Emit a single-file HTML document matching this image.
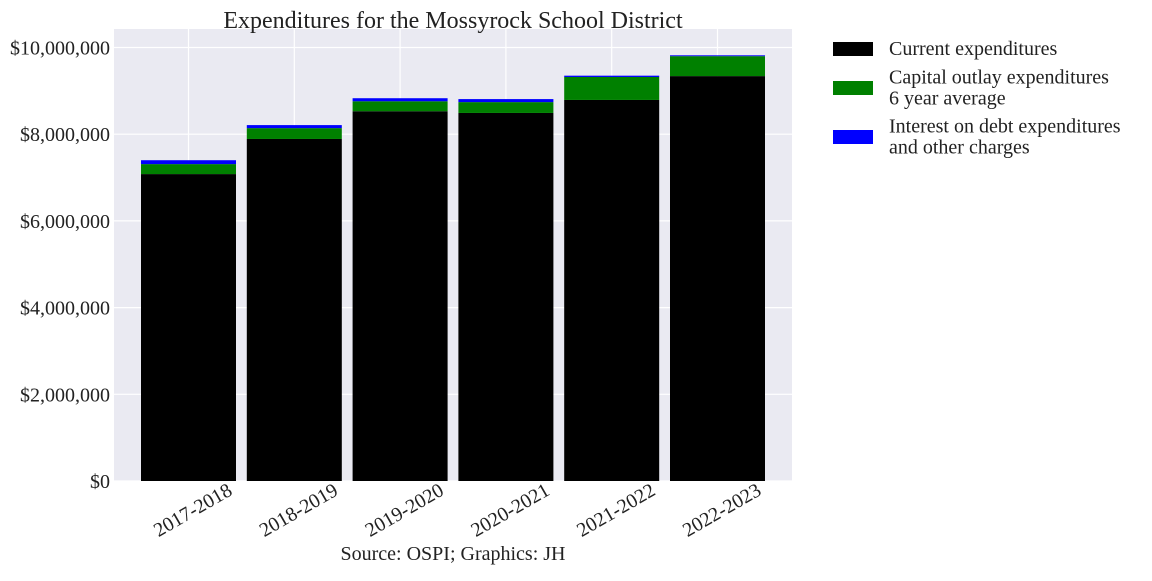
<!DOCTYPE html>
<html><head><meta charset="utf-8"><style>
body{margin:0;background:#fff;}
svg text{font-family:"Liberation Serif",serif;fill:#222;}
</style></head><body>
<svg width="1152" height="576" xmlns="http://www.w3.org/2000/svg">
<g id="chart"></g>
</svg>
<script>
const categories=["2017-2018","2018-2019","2019-2020","2020-2021","2021-2022","2022-2023"];
const currentExp=[7080000,7890000,8530000,8490000,8790000,9340000];
const capitalExp=[230000,250000,230000,250000,530000,460000];
const interestExp=[90000,70000,70000,70000,30000,20000];
const yTicks=[0,2000000,4000000,6000000,8000000,10000000];
const yTickLabels=["$0","$2,000,000","$4,000,000","$6,000,000","$8,000,000","$10,000,000"];
const legendLabels=[["Current expenditures"],["Capital outlay expenditures","6 year average"],["Interest on debt expenditures","and other charges"]];
const colors=["#000000","#008000","#0000ff"];
const NS="http://www.w3.org/2000/svg";
const g=document.getElementById('chart');
const L=114,R=792,T=29,B=481;
const ppm=43.35/1e6;
const y=v=>B-v*ppm;
const step=105.8, x0=188.5;
const x=i=>x0+i*step;
const bw=95;
function el(t,a,p){const e=document.createElementNS(NS,t);for(const k in a)e.setAttribute(k,a[k]);(p||g).appendChild(e);return e;}
const bg=el('rect',{x:L,y:T,width:R-L,height:B-T,fill:'#eaeaf2'});


yTicks.forEach((v,i)=>{
 const ln=el('line',{x1:L,x2:R,y1:y(v),y2:y(v),stroke:'#fff','stroke-width':1.2});
 
 
 const t=el('text',{x:L-4,y:y(v)+7,'text-anchor':'end','font-size':20});
 t.textContent=yTickLabels[i];
 
 
});
categories.forEach((c,i)=>{
 const ln=el('line',{x1:x(i),x2:x(i),y1:T,y2:B,stroke:'#fff','stroke-width':1.2});
 
 
});
categories.forEach((c,i)=>{
 const segs=[currentExp[i],capitalExp[i],interestExp[i]];
 let base=0;
 segs.forEach((v,s)=>{
  const r=el('rect',{x:x(i)-bw/2,y:y(base+v),width:bw,height:v*ppm,fill:colors[s]});
  
  
  base+=v;
 });
 const t=el('text',{x:0,y:0,'text-anchor':'end','font-size':20,transform:`translate(${x(i)+45},${B+13}) rotate(-30)`});
 t.textContent=c;
 
 
});
const title=el('text',{x:453,y:28,'text-anchor':'middle','font-size':24});
title.textContent="Expenditures for the Mossyrock School District";


const src=el('text',{x:453,y:560,'text-anchor':'middle','font-size':20});
src.textContent="Source: OSPI; Graphics: JH";


const ly=[49,88,137];
legendLabels.forEach((lines,i)=>{
 const r=el('rect',{x:833,y:ly[i]-7,width:40,height:14,fill:colors[i]});
 
 
 lines.forEach((ln,j)=>{
  const t=el('text',{x:889,y:ly[i]+6+(j-(lines.length-1)/2)*21,'font-size':20});
  t.textContent=ln;
  
  
 });
});
</script>
</body></html>
